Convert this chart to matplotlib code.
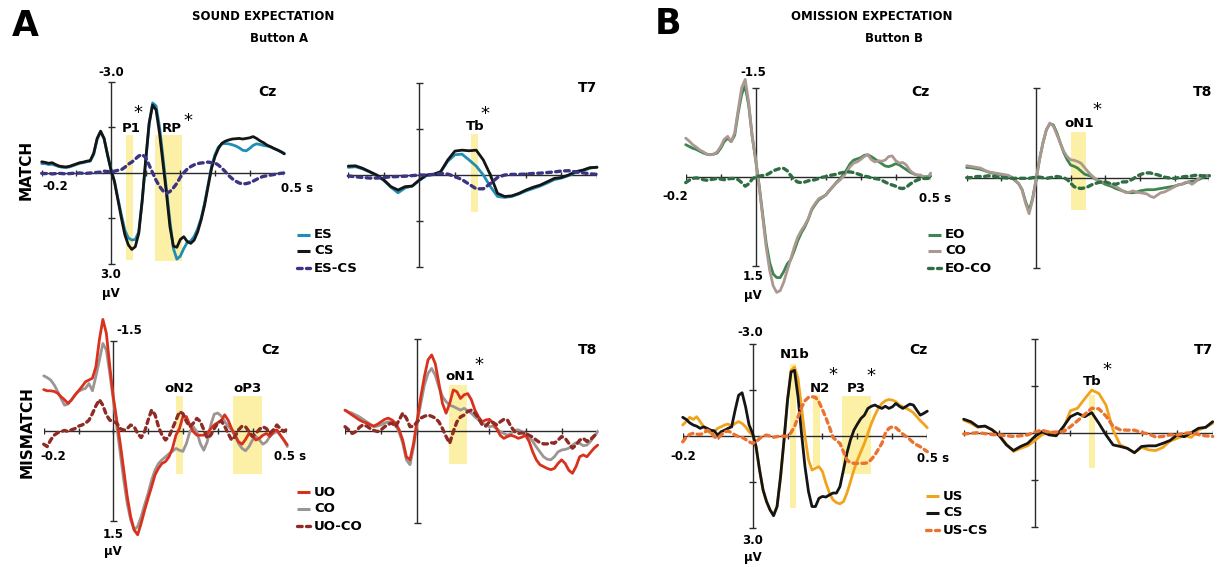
import numpy as np
import matplotlib
matplotlib.use("Agg")
import matplotlib.pyplot as plt

plt.rcParams["font.family"] = ["DejaVu Sans"]
plt.rcParams["font.weight"] = "bold"

# time bases (s)
T_FINE = np.round(np.arange(-0.2, 0.5001, 0.01), 2)
T_COARSE = np.round(np.arange(-0.2, 0.5001, 0.02), 2)

# ---- A, match, Cz (uV, negative up) ----
ES_A_CZ = [-0.30, -0.30, -0.27, -0.28, -0.24, -0.20, -0.18, -0.17, -0.19, -0.23,
           -0.27, -0.31, -0.33, -0.36, -0.38, -0.60, -1.10, -1.35, -1.12, -0.60,
           -0.10, 0.28, 0.85, 1.40, 1.90, 2.15, 2.22, 2.20, 1.95, 0.95,
           -0.35, -1.60, -2.30, -2.20, -1.50, -0.50, 0.55, 1.60, 2.50, 2.85,
           2.75, 2.50, 2.30, 2.25, 2.10, 1.85, 1.50, 1.00, 0.40, -0.20,
           -0.60, -0.85, -0.95, -0.96, -0.95, -0.92, -0.88, -0.82, -0.74, -0.72,
           -0.80, -0.90, -0.95, -0.93, -0.90, -0.88, -0.85, -0.80, -0.75, -0.70, -0.64]
CS_A_CZ = [-0.36, -0.34, -0.31, -0.33, -0.27, -0.22, -0.20, -0.19, -0.21, -0.25,
           -0.29, -0.33, -0.35, -0.38, -0.40, -0.64, -1.13, -1.37, -1.13, -0.58,
           -0.09, 0.30, 0.90, 1.50, 2.05, 2.38, 2.53, 2.44, 2.00, 0.90,
           -0.42, -1.63, -2.23, -2.07, -1.30, -0.31, 0.68, 1.78, 2.42, 2.46,
           2.20, 2.11, 2.27, 2.33, 2.22, 1.95, 1.56, 1.07, 0.46, -0.14,
           -0.53, -0.80, -0.97, -1.04, -1.08, -1.11, -1.12, -1.13, -1.11, -1.13,
           -1.15, -1.19, -1.13, -1.05, -0.99, -0.91, -0.86, -0.80, -0.75, -0.69, -0.62]
ESCS_A_CZ = [0.02, 0.03, 0.02, 0.04, 0.03, 0.02, 0.03, 0.04, 0.03, 0.02,
             0.02, 0.01, 0.02, 0.02, 0.01, 0.00, -0.01, -0.02, -0.05, -0.04,
             -0.02, -0.05, -0.08, -0.10, -0.18, -0.28, -0.35, -0.45, -0.55, -0.60,
             -0.50, -0.25, 0.00, 0.25, 0.45, 0.60, 0.68, 0.62, 0.50, 0.35,
             0.15, 0.00, -0.12, -0.20, -0.26, -0.30, -0.32, -0.33, -0.35, -0.33,
             -0.32, -0.25, -0.15, -0.03, 0.10, 0.20, 0.28, 0.34, 0.37, 0.36,
             0.33, 0.28, 0.22, 0.16, 0.12, 0.10, 0.08, 0.06, 0.04, 0.02, 0.01]

# ---- A, match, T7 ----
ES_A_T7 = [-0.25, -0.27, -0.20, -0.10, 0.02, 0.18, 0.40, 0.58, 0.42, 0.36,
           0.18, 0.02, -0.02, -0.10, -0.45, -0.66, -0.68, -0.49, -0.29, 0.00,
           0.38, 0.70, 0.73, 0.70, 0.62, 0.52, 0.44, 0.36, 0.26, 0.15,
           0.10, 0.02, -0.08, -0.14, -0.22, -0.26]
CS_A_T7 = [-0.29, -0.30, -0.22, -0.11, 0.00, 0.16, 0.38, 0.49, 0.38, 0.36,
           0.16, 0.00, -0.02, -0.11, -0.49, -0.78, -0.81, -0.79, -0.81, -0.49,
           0.00, 0.60, 0.70, 0.68, 0.60, 0.49, 0.40, 0.33, 0.22, 0.11,
           0.08, 0.00, -0.11, -0.16, -0.24, -0.25]
ESCS_A_T7 = [0.03, 0.06, 0.08, 0.10, 0.10, 0.08, 0.06, 0.05, 0.04, 0.02,
             0.00, 0.00, -0.02, -0.05, -0.03, 0.05, 0.15, 0.30, 0.45, 0.45,
             0.28, 0.08, 0.00, -0.02, -0.02, -0.03, -0.05, -0.06, -0.08, -0.10,
             -0.13, -0.14, -0.10, -0.07, -0.04, -0.02]

# ---- B, match, Cz ----
EO_B_CZ = [-0.54, -0.51, -0.48, -0.46, -0.43, -0.40, -0.38, -0.37, -0.38, -0.40,
           -0.48, -0.59, -0.65, -0.59, -0.70, -1.08, -1.39, -1.53, -1.20, -0.68,
           -0.28, 0.15, 0.64, 1.12, 1.45, 1.64, 1.70, 1.70, 1.60, 1.47,
           1.40, 1.25, 1.08, 0.95, 0.85, 0.72, 0.56, 0.47, 0.39, 0.35,
           0.31, 0.24, 0.17, 0.10, 0.04, -0.03, -0.12, -0.22, -0.28, -0.30,
           -0.32, -0.36, -0.37, -0.34, -0.30, -0.26, -0.22, -0.18, -0.17, -0.19,
           -0.22, -0.20, -0.16, -0.12, -0.08, -0.05, -0.03, -0.01, 0.00, 0.00, -0.01]
CO_B_CZ = [-0.65, -0.60, -0.54, -0.50, -0.45, -0.42, -0.38, -0.37, -0.38, -0.42,
           -0.51, -0.63, -0.68, -0.59, -0.74, -1.13, -1.50, -1.64, -1.25, -0.68,
           -0.28, 0.17, 0.68, 1.19, 1.58, 1.84, 1.95, 1.92, 1.78, 1.58,
           1.39, 1.19, 1.02, 0.91, 0.82, 0.71, 0.54, 0.45, 0.37, 0.34,
           0.31, 0.23, 0.17, 0.11, 0.06, 0.00, -0.08, -0.17, -0.23, -0.25,
           -0.29, -0.34, -0.37, -0.29, -0.25, -0.27, -0.26, -0.28, -0.34, -0.35,
           -0.27, -0.23, -0.24, -0.20, -0.11, -0.06, -0.03, -0.03, 0.00, 0.03, -0.06]
EOCO_B_CZ = [0.10, 0.06, 0.03, 0.02, 0.03, 0.05, 0.06, 0.05, 0.04, 0.03,
             0.04, 0.05, 0.04, 0.03, 0.03, 0.05, 0.10, 0.16, 0.12, 0.04,
             0.00, -0.01, -0.02, -0.03, -0.06, -0.10, -0.12, -0.14, -0.14, -0.10,
             -0.02, 0.05, 0.09, 0.10, 0.09, 0.07, 0.06, 0.05, 0.03, 0.01,
             0.00, -0.02, -0.03, -0.04, -0.06, -0.07, -0.08, -0.08, -0.07, -0.05,
             -0.03, -0.01, 0.00, 0.02, 0.03, 0.04, 0.06, 0.09, 0.12, 0.14,
             0.16, 0.19, 0.20, 0.18, 0.13, 0.09, 0.06, 0.04, 0.03, 0.03, 0.02]

# ---- B, match, T8 ----
EO_B_T8 = [-0.17, -0.17, -0.16, -0.15, -0.14, -0.12, -0.10, -0.08, -0.07, -0.06,
           -0.05, -0.04, -0.03, 0.00, 0.05, 0.10, 0.20, 0.40, 0.55, 0.35,
           0.04, -0.30, -0.58, -0.80, -0.90, -0.88, -0.75, -0.58, -0.42, -0.30,
           -0.21, -0.19, -0.16, -0.11, -0.06, -0.04, -0.02, 0.02, 0.05, 0.08,
           0.11, 0.13, 0.15, 0.18, 0.20, 0.22, 0.24, 0.25, 0.25, 0.24,
           0.22, 0.21, 0.20, 0.20, 0.20, 0.19, 0.18, 0.17, 0.16, 0.15,
           0.14, 0.12, 0.11, 0.09, 0.07, 0.06, 0.05, 0.03, 0.00, -0.02, -0.04]
CO_B_T8 = [-0.20, -0.19, -0.18, -0.17, -0.16, -0.13, -0.10, -0.09, -0.08, -0.07,
           -0.06, -0.05, -0.04, -0.01, 0.04, 0.10, 0.21, 0.43, 0.60, 0.37,
           0.04, -0.30, -0.58, -0.80, -0.91, -0.86, -0.72, -0.58, -0.44, -0.35,
           -0.30, -0.29, -0.27, -0.24, -0.17, -0.10, -0.04, 0.01, 0.05, 0.07,
           0.08, 0.10, 0.12, 0.15, 0.18, 0.22, 0.25, 0.24, 0.22, 0.24,
           0.25, 0.26, 0.27, 0.31, 0.33, 0.29, 0.25, 0.24, 0.21, 0.18,
           0.15, 0.12, 0.11, 0.08, 0.07, 0.11, 0.07, 0.01, -0.03, -0.04, -0.04]
EOCO_B_T8 = [0.00, 0.00, -0.01, -0.02, -0.02, -0.02, -0.03, -0.03, -0.02, -0.01,
             0.00, 0.00, 0.01, 0.01, 0.01, 0.01, 0.01, 0.01, 0.01, 0.00,
             -0.01, -0.01, 0.00, 0.01, 0.00, -0.01, -0.02, -0.01, 0.00, 0.03,
             0.09, 0.15, 0.17, 0.18, 0.17, 0.15, 0.12, 0.10, 0.08, 0.07,
             0.07, 0.09, 0.10, 0.11, 0.09, 0.07, 0.07, 0.05, 0.02, -0.02,
             -0.05, -0.07, -0.08, -0.08, -0.06, -0.05, -0.03, -0.01, 0.00, 0.01,
             0.01, 0.00, -0.01, -0.02, -0.02, -0.03, -0.04, -0.04, -0.03, -0.03, -0.03]

# ---- A, mismatch, Cz ----
UO_A_CZ = [-0.69, -0.67, -0.67, -0.66, -0.63, -0.57, -0.52, -0.46, -0.52, -0.60,
           -0.67, -0.74, -0.82, -0.85, -0.88, -1.07, -1.52, -1.86, -1.63, -1.07,
           -0.57, -0.18, 0.21, 0.65, 1.09, 1.43, 1.65, 1.73, 1.54, 1.32,
           1.12, 0.93, 0.73, 0.62, 0.54, 0.51, 0.43, 0.29, 0.07, -0.04,
           -0.24, -0.24, -0.10, 0.01, 0.07, 0.07, 0.07, 0.04, -0.04, -0.10,
           -0.14, -0.17, -0.27, -0.18, -0.04, 0.07, 0.18, 0.22, 0.14, 0.04,
           0.09, 0.15, 0.12, 0.07, 0.04, 0.09, 0.01, -0.02, 0.07, 0.15, 0.23]
CO_A_CZ = [-0.92, -0.89, -0.85, -0.77, -0.66, -0.54, -0.43, -0.45, -0.52, -0.60,
           -0.66, -0.69, -0.71, -0.79, -0.67, -0.91, -1.18, -1.46, -1.35, -0.96,
           -0.52, -0.07, 0.37, 0.82, 1.21, 1.48, 1.65, 1.59, 1.43, 1.23,
           1.04, 0.82, 0.65, 0.54, 0.48, 0.43, 0.38, 0.34, 0.29, 0.32,
           0.34, 0.21, 0.01, -0.07, 0.01, 0.21, 0.32, 0.18, -0.10, -0.28,
           -0.30, -0.25, -0.16, -0.08, -0.02, 0.09, 0.21, 0.29, 0.33, 0.26,
           0.15, 0.09, 0.15, 0.22, 0.18, 0.09, 0.04, 0.01, 0.07, 0.15, 0.26]
UOCO_A_CZ = [0.22, 0.26, 0.15, 0.07, 0.03, 0.01, -0.01, 0.01, -0.02, -0.04,
             -0.08, -0.10, -0.13, -0.18, -0.29, -0.42, -0.52, -0.43, -0.27, -0.18,
             -0.16, -0.13, -0.04, -0.01, -0.04, -0.10, -0.07, 0.04, 0.11, 0.01,
             -0.18, -0.35, -0.27, -0.07, 0.07, 0.15, 0.09, -0.04, -0.18, -0.32,
             -0.29, -0.16, -0.07, -0.13, -0.21, -0.16, -0.02, 0.12, 0.07, -0.04,
             -0.13, -0.17, -0.08, 0.04, 0.15, 0.09, -0.02, -0.08, -0.07, 0.01,
             0.09, 0.04, -0.03, -0.07, -0.04, 0.04, -0.02, -0.10, -0.04, 0.01, -0.04]

# ---- A, mismatch, T8 ----
UO_A_T8 = [-0.34, -0.30, -0.26, -0.22, -0.18, -0.15, -0.13, -0.10, -0.08, -0.11,
           -0.15, -0.19, -0.21, -0.18, -0.13, -0.02, 0.15, 0.42, 0.47, 0.20,
           -0.18, -0.56, -0.89, -1.16, -1.24, -1.10, -0.78, -0.45, -0.29, -0.45,
           -0.67, -0.64, -0.53, -0.59, -0.61, -0.51, -0.34, -0.23, -0.15, -0.18,
           -0.19, -0.13, -0.04, 0.07, 0.12, 0.09, 0.07, 0.09, 0.12, 0.10,
           0.07, 0.17, 0.34, 0.47, 0.55, 0.58, 0.61, 0.63, 0.61, 0.53,
           0.47, 0.53, 0.64, 0.69, 0.58, 0.42, 0.39, 0.42, 0.35, 0.28, 0.23]
CO_A_T8 = [-0.34, -0.31, -0.29, -0.26, -0.23, -0.19, -0.15, -0.11, -0.07, -0.08,
           -0.10, -0.13, -0.15, -0.13, -0.10, 0.02, 0.20, 0.47, 0.55, 0.26,
           -0.13, -0.45, -0.75, -0.94, -1.02, -0.91, -0.72, -0.56, -0.48, -0.42,
           -0.40, -0.37, -0.34, -0.37, -0.33, -0.29, -0.23, -0.18, -0.13, -0.10,
           -0.07, -0.08, -0.04, 0.01, 0.04, 0.07, 0.04, -0.01, -0.02, 0.01,
           0.04, 0.09, 0.17, 0.26, 0.34, 0.42, 0.46, 0.47, 0.42, 0.34,
           0.31, 0.30, 0.28, 0.23, 0.19, 0.20, 0.24, 0.23, 0.17, 0.09, 0.01]
UOCO_A_T8 = [-0.07, -0.02, 0.04, 0.01, -0.06, -0.10, -0.08, -0.04, -0.01, 0.01,
             -0.02, -0.07, -0.11, -0.13, -0.07, -0.18, -0.29, -0.21, -0.07, -0.08,
             -0.15, -0.21, -0.24, -0.26, -0.24, -0.21, -0.15, -0.04, 0.09, 0.20,
             0.01, -0.15, -0.23, -0.26, -0.32, -0.34, -0.29, -0.21, -0.10, -0.08,
             -0.15, -0.14, -0.10, -0.15, -0.19, -0.18, -0.07, 0.01, 0.04, 0.03,
             0.04, 0.07, 0.10, 0.15, 0.19, 0.21, 0.21, 0.19, 0.20, 0.15,
             0.09, 0.12, 0.20, 0.28, 0.23, 0.15, 0.12, 0.17, 0.14, 0.08, 0.04]

# ---- B, mismatch, Cz ----
US_B_CZ = [-0.35, -0.46, -0.60, -0.53, -0.62, -0.46, -0.29, -0.16, -0.08, -0.13,
           -0.24, -0.29, -0.35, -0.38, -0.31, -0.40, -0.46, -0.40, -0.29, -0.13,
           -0.02, 0.36, 1.12, 1.77, 2.15, 2.42, 2.58, 2.31, 1.39, 0.14,
           -1.16, -2.13, -2.24, -1.86, -0.94, 0.03, 0.79, 1.12, 1.06, 1.01,
           1.17, 1.55, 1.87, 2.09, 2.18, 2.22, 2.15, 1.87, 1.50, 1.12,
           0.79, 0.52, 0.25, -0.08, -0.40, -0.67, -0.89, -1.05, -1.14, -1.18,
           -1.16, -1.11, -1.00, -0.94, -0.89, -0.83, -0.75, -0.62, -0.49, -0.38, -0.26]
CS_B_CZ = [-0.60, -0.53, -0.42, -0.35, -0.31, -0.24, -0.29, -0.24, -0.18, -0.16,
           -0.02, -0.13, -0.18, -0.24, -0.29, -0.83, -1.32, -1.40, -0.94, -0.35,
           -0.08, 0.36, 1.12, 1.77, 2.15, 2.42, 2.61, 2.31, 1.33, 0.14,
           -1.16, -2.08, -2.13, -1.27, -0.08, 1.01, 1.82, 2.31, 2.31, 2.04,
           1.98, 2.00, 1.93, 1.87, 1.87, 1.66, 1.12, 0.57, 0.14, -0.18,
           -0.38, -0.56, -0.67, -0.89, -0.96, -1.00, -0.94, -0.89, -0.96, -0.89,
           -0.94, -1.05, -0.96, -0.89, -0.96, -1.03, -1.00, -0.83, -0.67, -0.73, -0.80]
USCS_B_CZ = [0.20, 0.05, -0.04, -0.08, -0.05, -0.04, -0.08, -0.18, -0.13, 0.03,
             0.09, -0.02, -0.13, -0.15, -0.10, -0.02, 0.03, 0.05, 0.12, 0.20,
             0.25, 0.20, 0.09, 0.01, -0.02, 0.01, 0.05, 0.03, 0.00, 0.02,
             0.01, -0.10, -0.29, -0.62, -0.92, -1.14, -1.25, -1.27, -1.25, -1.10,
             -0.85, -0.58, -0.28, 0.05, 0.16, 0.25, 0.52, 0.79, 0.88, 0.90,
             0.90, 0.90, 0.90, 0.88, 0.77, 0.63, 0.44, 0.25, -0.08, -0.24,
             -0.29, -0.26, -0.16, -0.05, 0.03, 0.12, 0.23, 0.30, 0.36, 0.44, 0.52]

# ---- B, mismatch, T7 ----
US_B_T7 = [-0.42, -0.32, -0.19, -0.23, -0.11, 0.05, 0.34, 0.58, 0.48, 0.40,
           0.23, 0.05, -0.05, 0.05, -0.15, -0.72, -0.80, -1.10, -1.38, -1.27,
           -0.90, -0.10, 0.37, 0.48, 0.62, 0.45, 0.53, 0.55, 0.45, 0.25,
           0.16, 0.08, 0.13, -0.11, -0.19, -0.32]
CS_B_T7 = [-0.45, -0.37, -0.21, -0.23, -0.11, 0.08, 0.37, 0.55, 0.42, 0.32,
           0.10, -0.05, 0.05, 0.08, -0.21, -0.53, -0.64, -0.53, -0.66, -0.32,
           0.05, 0.37, 0.42, 0.48, 0.62, 0.42, 0.40, 0.40, 0.32, 0.23,
           0.05, 0.11, -0.02, -0.16, -0.19, -0.37]
USCS_B_T7 = [0.02, 0.00, -0.02, 0.01, 0.04, 0.05, 0.08, 0.10, 0.08, 0.05,
             -0.04, -0.10, -0.03, -0.04, -0.05, -0.21, -0.40, -0.60, -0.80, -0.78,
             -0.55, -0.22, -0.11, -0.10, -0.10, -0.02, 0.02, 0.12, 0.10, 0.05,
             0.05, 0.00, -0.02, 0.04, 0.08, 0.10]

# colours
C_ES, C_CS, C_ESCS = "#1f8db5", "#151515", "#3a3482"
C_EO, C_CO_B, C_EOCO = "#3e8551", "#ab9891", "#2f6d43"
C_UO, C_CO_A, C_UOCO = "#d8321e", "#9c9593", "#8e2b25"
C_US, C_USCS = "#f2a31b", "#ea7330"
C_BAND = "#fcf0a6"
C_AX = "#2a2a2a"

W, H = 1218, 567
fig = plt.figure(figsize=(W / 100, H / 100), dpi=100)

# overlay in pixel units for titles, legends and tick values
ov = fig.add_axes([0, 0, 1, 1])
ov.set_xlim(0, W)
ov.set_ylim(H, 0)
ov.axis("off")


def erp_axes(x0, x1, yz, half, ymax, mid_ticks):
    # x0/x1: pixel column of -0.2 s / 0.5 s, yz: pixel row of 0 uV,
    # half: pixels from 0 to ymax
    pad = 1.4
    ax = fig.add_axes([x0 / W, 1 - (yz + pad * half) / H,
                       (x1 - x0) / W, 2 * pad * half / H])
    ax.set_xlim(-0.2, 0.5)
    ax.set_ylim(pad * ymax, -pad * ymax)
    ax.axis("off")
    dx = 0.7 / (x1 - x0)
    dy = ymax / half
    kw = dict(color=C_AX, lw=1.0, zorder=1, solid_capstyle="butt")
    ax.plot([-0.2, 0.5], [0, 0], **kw)
    ax.plot([0, 0], [-ymax, ymax], **kw)
    for tk in np.round(np.arange(-0.2, 0.51, 0.1), 1):
        ax.plot([tk, tk], [-3 * dy, 3 * dy], **kw)
    yt = [-ymax, ymax]
    if mid_ticks:
        yt += [-ymax / 2, ymax / 2]
    for v in yt:
        ax.plot([-3.5 * dx, 3.5 * dx], [v, v], **kw)
    return ax


def band(ax, t0, t1, v0, v1):
    ax.fill_between([t0, t1], [v0, v0], [v1, v1], color=C_BAND, lw=0, zorder=0)


def comp(ax, t, v, s, star=None):
    ax.text(t, v, s, fontsize=9.5, ha="center", va="center", zorder=5)
    if star is not None:
        ax.text(star[0], star[1], "*", fontsize=13, fontweight="normal",
                ha="center", va="center", zorder=5)


def solid(ax, t, y, c, z):
    ax.plot(t, y, color=c, lw=2.0, zorder=z, clip_on=False,
            solid_joinstyle="round", solid_capstyle="round")


def dashed(ax, t, y, c):
    ax.plot(t, y, color=c, lw=2.4, zorder=4, clip_on=False,
            linestyle=(0, (1.4, 1.3)), dash_capstyle="round")


# A match Cz
ax = erp_axes(41.7, 284.3, 172.7, 91, 3.0, True)
band(ax, 0.042, 0.063, -1.24, 2.88)
band(ax, 0.127, 0.206, -1.24, 2.90)
solid(ax, T_FINE, ES_A_CZ, C_ES, 2)
solid(ax, T_FINE, CS_A_CZ, C_CS, 3)
dashed(ax, T_FINE, ESCS_A_CZ, C_ESCS)
comp(ax, 0.058, -1.46, "P1", (0.078, -1.98))
comp(ax, 0.175, -1.46, "RP", (0.222, -1.72))

# A match T7
ax = erp_axes(348.3, 597.0, 175.0, 92, 3.0, True)
band(ax, 0.145, 0.164, -1.33, 1.22)
solid(ax, T_COARSE, ES_A_T7, C_ES, 2)
solid(ax, T_COARSE, CS_A_T7, C_CS, 3)
dashed(ax, T_COARSE, ESCS_A_T7, C_ESCS)
comp(ax, 0.158, -1.57, "Tb", (0.186, -1.98))

# B match Cz
ax = erp_axes(685.7, 930.7, 176.7, 89, 1.5, False)
solid(ax, T_FINE, EO_B_CZ, C_EO, 2)
solid(ax, T_FINE, CO_B_CZ, C_CO_B, 3)
dashed(ax, T_FINE, EOCO_B_CZ, C_EOCO)

# B match T8
ax = erp_axes(966.7, 1209.3, 177.7, 90, 1.5, False)
band(ax, 0.100, 0.143, -0.77, 0.54)
solid(ax, T_FINE, EO_B_T8, C_EO, 2)
solid(ax, T_FINE, CO_B_T8, C_CO_B, 3)
dashed(ax, T_FINE, EOCO_B_T8, C_EOCO)
comp(ax, 0.125, -0.91, "oN1", (0.176, -1.13))

# A mismatch Cz
ax = erp_axes(43.7, 287.3, 431.0, 90, 1.5, False)
band(ax, 0.180, 0.199, -0.59, 0.72)
band(ax, 0.343, 0.426, -0.59, 0.72)
solid(ax, T_FINE, CO_A_CZ, C_CO_A, 2)
solid(ax, T_FINE, UO_A_CZ, C_UO, 3)
dashed(ax, T_FINE, UOCO_A_CZ, C_UOCO)
comp(ax, 0.190, -0.70, "oN2")
comp(ax, 0.385, -0.70, "oP3")

# A mismatch T8
ax = erp_axes(345.0, 597.7, 431.0, 92, 1.5, False)
band(ax, 0.089, 0.137, -0.75, 0.53)
solid(ax, T_FINE, CO_A_T8, C_CO_A, 2)
solid(ax, T_FINE, UO_A_T8, C_UO, 3)
dashed(ax, T_FINE, UOCO_A_T8, C_UOCO)
comp(ax, 0.118, -0.89, "oN1", (0.172, -1.07))

# B mismatch Cz
ax = erp_axes(682.7, 927.3, 435.7, 92, 3.0, True)
band(ax, 0.106, 0.125, -2.35, 2.36)
band(ax, 0.173, 0.194, -1.32, 1.00)
band(ax, 0.255, 0.338, -1.29, 1.25)
solid(ax, T_FINE, US_B_CZ, C_US, 2)
solid(ax, T_FINE, CS_B_CZ, C_CS, 3)
dashed(ax, T_FINE, USCS_B_CZ, C_USCS)
comp(ax, 0.121, -2.64, "N1b")
comp(ax, 0.194, -1.54, "N2", (0.231, -1.98))
comp(ax, 0.298, -1.54, "P3", (0.340, -1.95))

# B mismatch T7
ax = erp_axes(963.7, 1212.7, 433.3, 94, 3.0, True)
band(ax, 0.151, 0.170, -1.22, 1.11)
solid(ax, T_COARSE, US_B_T7, C_US, 2)
solid(ax, T_COARSE, CS_B_T7, C_CS, 3)
dashed(ax, T_COARSE, USCS_B_T7, C_USCS)
comp(ax, 0.160, -1.64, "Tb", (0.203, -2.02))


def txt(x, y, s, size=9.5, ha="center", **kw):
    ov.text(x, y, s, fontsize=size, ha=ha, va="center", **kw)


# panel letters and headings
txt(25, 26, "A", size=25)
txt(668, 24, "B", size=25)
txt(192, 17, "SOUND EXPECTATION", size=8.5, ha="left")
txt(250, 38, "Button A", size=8.5, ha="left")
txt(791, 17, "OMISSION EXPECTATION", size=8.5, ha="left")
txt(865, 38, "Button B", size=8.5, ha="left")
txt(26, 170, "MATCH", size=11, rotation=90)
txt(27, 432, "MISMATCH", size=11, rotation=90)

# electrode names
for x, y, s in [(267, 92, "Cz"), (587, 88, "T7"), (920, 92, "Cz"), (1203, 92, "T8"),
                (270, 350, "Cz"), (588, 350, "T8"), (918, 350, "Cz"), (1203, 350, "T7")]:
    txt(x, y, s, size=10)

# axis values
tv = 8.5
txt(111, 72, "-3.0", tv); txt(111, 275, "3.0", tv); txt(111, 293, "\u03bcV", tv)
txt(55, 187, "-0.2", tv); txt(297, 188, "0.5 s", tv)
txt(753, 73, "-1.5", tv); txt(753, 277, "1.5", tv); txt(753, 295, "\u03bcV", tv)
txt(675, 196, "-0.2", tv); txt(935, 199, "0.5 s", tv)
txt(116, 330, "-1.5", tv, ha="left"); txt(113, 534, "1.5", tv); txt(113, 552, "\u03bcV", tv)
txt(53, 457, "-0.2", tv); txt(290, 457, "0.5 s", tv)
txt(750, 333, "-3.0", tv); txt(753, 540, "3.0", tv); txt(753, 557, "\u03bcV", tv)
txt(683, 457, "-0.2", tv); txt(933, 458, "0.5 s", tv)

# legends
LEGENDS = [
    (297, [235, 251, 268], [("ES", C_ES, "-"), ("CS", C_CS, "-"), ("ES-CS", C_ESCS, "--")]),
    (928, [235, 251, 268], [("EO", C_EO, "-"), ("CO", C_CO_B, "-"), ("EO-CO", C_EOCO, "--")]),
    (297, [492, 509, 526], [("UO", C_UO, "-"), ("CO", C_CO_A, "-"), ("UO-CO", C_UOCO, "--")]),
    (926, [496, 513, 530], [("US", C_US, "-"), ("CS", C_CS, "-"), ("US-CS", C_USCS, "--")]),
]
for x0, rows, items in LEGENDS:
    for y, (lab, c, ls) in zip(rows, items):
        if ls == "-":
            ov.plot([x0, x0 + 13], [y, y], color=c, lw=2.2, solid_capstyle="butt")
        else:
            ov.plot([x0, x0 + 13], [y, y], color=c, lw=2.4,
                    linestyle=(0, (1.4, 1.3)), dash_capstyle="round")
        txt(x0 + 17, y, lab, size=9.5, ha="left")

fig.savefig("out.png", dpi=100, facecolor="white")
